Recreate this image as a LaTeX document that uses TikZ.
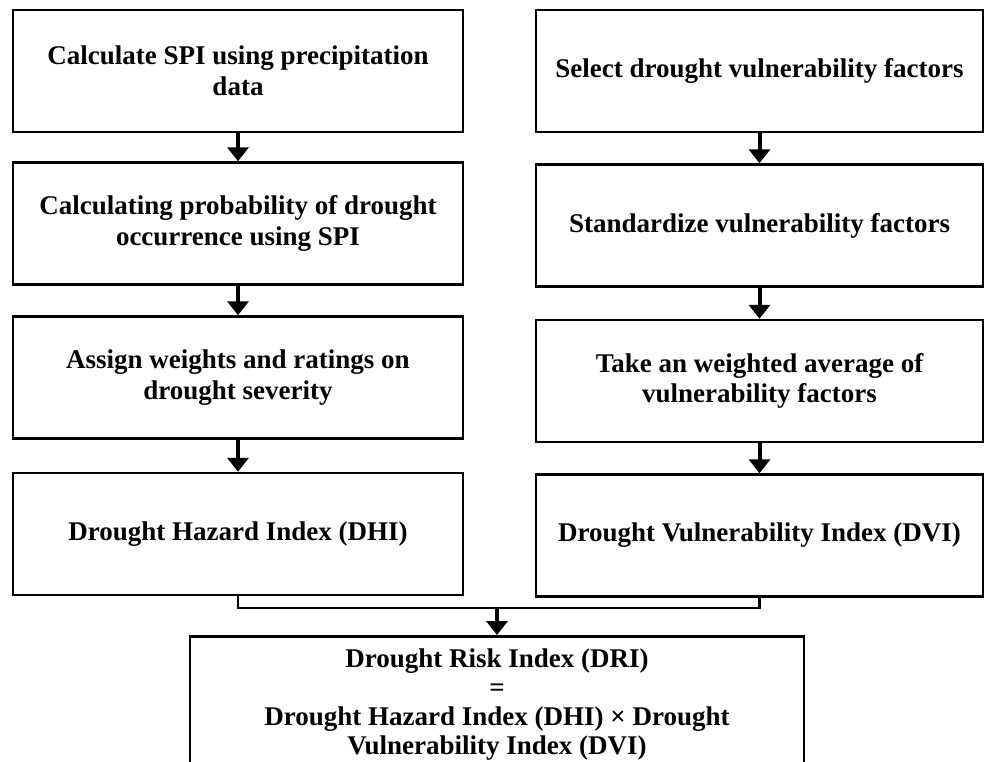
\documentclass[tikz,border=0pt]{standalone}
\usepackage{fontspec}
\setmainfont{Liberation Serif}
\usetikzlibrary{arrows.meta}
\tikzset{
  stepbox/.style={draw, line width=2.5pt, minimum height=122pt, inner sep=0pt,
    align=center, font=\fontsize{27}{30.5}\selectfont\bfseries},
  leftbox/.style={stepbox, minimum width=450pt},
  rightbox/.style={stepbox, minimum width=447pt},
  flow/.style={line width=4pt, -{Triangle[width=21pt,length=14pt]}},
  joinline/.style={line width=2.2pt},
}
\begin{document}
\begin{tikzpicture}[x=1pt,y=-1pt]
\useasboundingbox (0,0) rectangle (987,761);
\clip (0,0) rectangle (987,761);

% Hazard side
\node[leftbox] (spi)  at (238,71)    {Calculate SPI using precipitation\\data};
\node[leftbox] (prob) at (238,223.5) {Calculating probability of drought\\occurrence using SPI};
\node[leftbox] (wts)  at (238,377.5) {Assign weights and ratings on\\drought severity};
\node[leftbox] (dhi)  at (238,534)   {Drought Hazard Index (DHI)};

% Vulnerability side
\node[rightbox] (sel) at (759.5,71)    {Select drought vulnerability factors};
\node[rightbox] (std) at (759.5,225.5) {Standardize vulnerability factors};
\node[rightbox] (avg) at (759.5,381)   {Take an weighted average of\\vulnerability factors};
\node[rightbox] (dvi) at (759.5,535.5) {Drought Vulnerability Index (DVI)};

% Risk
\node[stepbox, minimum width=614pt, minimum height=136pt, anchor=north, font=\fontsize{27}{29}\selectfont\bfseries] (dri) at (497,635)
  {Drought Risk Index (DRI)\\=\\Drought Hazard Index (DHI) × Drought\\Vulnerability Index (DVI)};

\draw[flow] (spi) -- (prob);
\draw[flow] (prob) -- (wts);
\draw[flow] (wts) -- (dhi);
\draw[flow] (sel) -- (std);
\draw[flow] (std) -- (avg);
\draw[flow] (avg) -- (dvi);

\coordinate (join) at (497,608);
\draw[joinline] (dhi.south) |- (join) -| (dvi.south);
\draw[flow] (join) -- (dri.north);
\end{tikzpicture}
\end{document}
